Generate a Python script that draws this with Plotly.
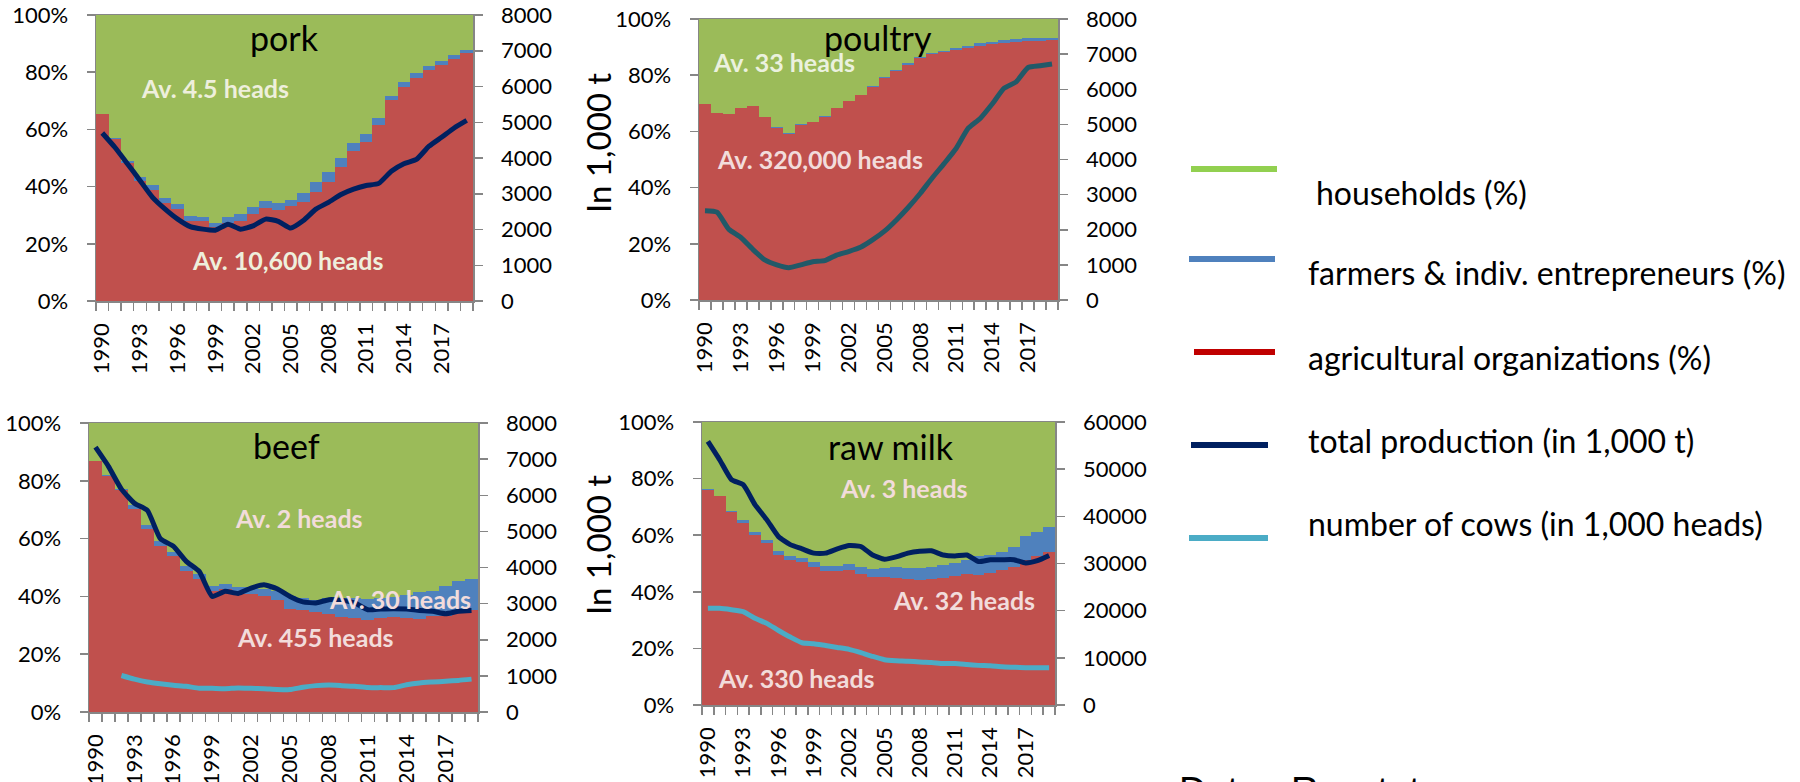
import plotly.graph_objects as go

W, H = 1800, 782

years = list(range(1990, 2020))
year_ticks = [1990, 1993, 1996, 1999, 2002, 2005, 2008, 2011, 2014, 2017]
pct_ticks = [0, 20, 40, 60, 80, 100]
pct_labels = ["0%", "20%", "40%", "60%", "80%", "100%"]

# ---- pork ----
pork_org = [65.3, 56.8, 48.4, 42.1, 38.9, 34.3, 32.0, 28.1, 27.8, 26.0, 27.1, 28.1, 30.4, 32.5, 31.8,
            33.1, 34.7, 38.2, 41.5, 46.8, 52.6, 55.6, 61.4, 70.2, 74.9, 78.1, 80.7, 82.5, 84.6, 86.8]
pork_farm = [0.2, 0.3, 0.5, 1.2, 1.7, 1.6, 1.9, 1.7, 1.7, 1.1, 2.4, 2.3, 2.3, 2.4, 2.4,
             2.3, 3.1, 3.3, 3.5, 3.1, 2.6, 2.9, 2.6, 1.5, 1.7, 1.7, 1.5, 1.4, 1.4, 0.9]
pork_hh = [34.5, 42.9, 51.1, 56.7, 59.4, 64.1, 66.1, 70.2, 70.5, 72.9, 70.5, 69.6, 67.3, 65.1, 65.8,
           64.6, 62.2, 58.5, 55.0, 50.1, 44.8, 41.5, 36.0, 28.3, 23.4, 20.2, 17.8, 16.1, 14.0, 12.3]
pork_prod = [4700, 4300, 3840, 3370, 2900, 2570, 2290, 2080, 2010, 1980, 2150, 2010, 2100, 2290, 2230,
             2040, 2250, 2570, 2760, 2980, 3130, 3230, 3290, 3630, 3840, 3960, 4330, 4580, 4840, 5050]

# ---- poultry ----
poultry_org = [69.6, 66.7, 66.2, 68.4, 68.9, 65.1, 61.3, 59.2, 62.4, 63.3, 65.3, 68.2, 70.7, 72.8, 75.9,
               79.1, 81.5, 83.7, 86.0, 87.4, 88.1, 89.1, 89.8, 90.5, 91.0, 91.5, 91.8, 92.2, 92.3, 92.4]
poultry_farm = [0.0, 0.0, 0.0, 0.0, 0.1, 0.1, 0.1, 0.1, 0.2, 0.2, 0.2, 0.2, 0.2, 0.2, 0.3,
                0.4, 0.4, 0.5, 0.6, 0.6, 0.6, 0.7, 0.7, 0.8, 0.9, 1.0, 1.0, 0.9, 0.9, 1.0]
poultry_hh = [30.4, 33.3, 33.8, 31.6, 31.0, 34.8, 38.6, 40.7, 37.4, 36.5, 34.5, 31.6, 29.1, 27.0, 23.8,
              20.5, 18.1, 15.8, 13.4, 12.0, 11.3, 10.2, 9.5, 8.7, 8.1, 7.5, 7.2, 6.9, 6.8, 6.6]
poultry_prod = [2540, 2500, 2010, 1780, 1440, 1140, 1000, 920, 1000, 1090, 1120, 1280, 1380, 1500, 1710,
                1960, 2280, 2640, 3040, 3480, 3890, 4320, 4890, 5170, 5580, 6030, 6210, 6620, 6670, 6720]

# ---- beef ----
beef_org = [86.7, 81.8, 76.9, 70.4, 63.3, 57.6, 53.9, 48.7, 46.0, 41.8, 42.6, 40.9, 40.9, 40.3, 38.6,
            35.6, 35.2, 34.5, 33.9, 32.8, 32.5, 31.7, 32.5, 32.8, 32.5, 32.2, 33.1, 33.3, 34.5, 35.4]
beef_farm = [0.2, 0.2, 0.4, 1.3, 1.5, 1.5, 1.5, 1.7, 1.9, 1.7, 1.8, 2.4, 2.2, 2.3, 3.2,
             4.4, 4.2, 4.4, 5.5, 6.6, 6.9, 7.4, 6.9, 7.0, 8.1, 9.3, 8.9, 10.2, 10.9, 10.7]
beef_hh = [13.1, 18.0, 22.7, 28.3, 35.2, 40.9, 44.6, 49.6, 52.1, 56.5, 55.6, 56.7, 56.9, 57.4, 58.2,
           60.0, 60.6, 61.1, 60.6, 60.6, 60.6, 60.9, 60.6, 60.2, 59.4, 58.5, 58.0, 56.5, 54.6, 53.9]
beef_prod = [7330, 6800, 6170, 5780, 5580, 4800, 4590, 4170, 3890, 3200, 3340, 3280, 3430, 3520, 3410,
             3200, 3050, 3020, 3110, 3090, 3020, 2830, 2850, 2860, 2850, 2810, 2790, 2720, 2790, 2810]
beef_cows = [None, None, 1010, 910, 830, 780, 740, 710, 660, 655, 645, 665, 655, 645, 625,
             620, 685, 730, 745, 730, 710, 675, 675, 675, 755, 805, 830, 850, 875, 910]

# ---- raw milk ----
milk_org = [76.1, 73.9, 68.2, 64.3, 59.9, 57.2, 53.1, 51.3, 50.4, 48.7, 47.4, 47.4, 47.8, 46.3, 45.2,
            45.2, 45.0, 44.5, 44.2, 44.5, 45.0, 45.6, 46.2, 46.0, 46.8, 47.8, 48.9, 51.1, 52.8, 54.0]
milk_farm = [0.1, 0.1, 0.4, 0.9, 1.2, 1.2, 1.4, 1.5, 1.5, 1.7, 1.8, 1.8, 2.1, 2.4, 2.8,
             3.1, 3.7, 3.8, 4.1, 4.4, 4.5, 4.5, 5.1, 6.5, 6.3, 6.4, 7.1, 8.7, 8.5, 8.9]
milk_hh = [23.8, 26.0, 31.4, 34.8, 38.9, 41.6, 45.5, 47.2, 48.1, 49.6, 50.8, 50.8, 50.1, 51.3, 52.0,
           51.7, 51.3, 51.7, 51.7, 51.1, 50.5, 49.9, 48.7, 47.5, 46.9, 45.8, 44.0, 40.2, 38.7, 37.1]
milk_prod = [55900, 52000, 47800, 46700, 42500, 39300, 35700, 34000, 33100, 32200, 32200, 33100, 33800, 33600, 31800,
             30900, 31400, 32200, 32600, 32700, 31800, 31600, 31800, 30400, 30800, 30800, 30800, 30100, 30600, 31700]
milk_cows = [20500, 20500, 20200, 19800, 18400, 17300, 15800, 14400, 13200, 13000, 12600, 12200, 11800, 11100, 10300,
             9600, 9400, 9300, 9100, 9000, 8800, 8800, 8600, 8400, 8300, 8100, 8000, 7900, 7900, 7900]

legend_labels = ["households (%)", "farmers & indiv. entrepreneurs (%)", "agricultural organizations (%)",
                 "total production (in 1,000 t)", "number of cows (in 1,000 heads)"]

# ---- styles ----
RED, BLUE, GREEN = "#C0504D", "#4F81BD", "#9BBB59"
NAVY, TEAL, CYAN = "#002060", "#215968", "#4BACC6"
AXIS = "#868686"
FONT = "Lato"
TICKFONT = dict(family=FONT, size=22, color="#000000")


def px_x(p):
    return p / W


def px_y(p):
    return 1 - p / H


panels = [
    dict(name="pork", org=pork_org, farm=pork_farm, hh=pork_hh, prod=pork_prod, cows=None,
         prod_color=NAVY, rmax=8000, rdtick=1000, x=(96, 473), y=(15, 301)),
    dict(name="poultry", org=poultry_org, farm=poultry_farm, hh=poultry_hh, prod=poultry_prod, cows=None,
         prod_color=TEAL, rmax=8000, rdtick=1000, x=(699, 1058), y=(19, 300)),
    dict(name="beef", org=beef_org, farm=beef_farm, hh=beef_hh, prod=beef_prod, cows=beef_cows,
         prod_color=NAVY, rmax=8000, rdtick=1000, x=(89, 478), y=(423, 712)),
    dict(name="raw milk", org=milk_org, farm=milk_farm, hh=milk_hh, prod=milk_prod, cows=milk_cows,
         prod_color=NAVY, rmax=60000, rdtick=10000, x=(702, 1055), y=(422, 705)),
]

fig = go.Figure()
layout = dict()

for i, p in enumerate(panels):
    n = i + 1
    xa = "x" if n == 1 else f"x{n}"
    yl = "y" if n == 1 else f"y{2 * n - 1}"
    yr = f"y{2 * n}"
    xkey = "xaxis" if n == 1 else f"xaxis{n}"
    ylkey = "yaxis" if n == 1 else f"yaxis{2 * n - 1}"
    yrkey = f"yaxis{2 * n}"

    for vals, col, nm in [(p["org"], RED, legend_labels[2]), (p["farm"], BLUE, legend_labels[1]),
                          (p["hh"], GREEN, legend_labels[0])]:
        fig.add_trace(go.Bar(x=years, y=vals, marker=dict(color=col, line=dict(width=0)),
                             name=nm, showlegend=False, xaxis=xa, yaxis=yl))
    fig.add_trace(go.Scatter(x=years, y=p["prod"], mode="lines", name=legend_labels[3],
                             line=dict(color=p["prod_color"], width=5, shape="spline", smoothing=0.5),
                             showlegend=False, xaxis=xa, yaxis=yr))
    if p["cows"] is not None:
        fig.add_trace(go.Scatter(x=years, y=p["cows"], mode="lines", name=legend_labels[4],
                                 line=dict(color=CYAN, width=5, shape="spline", smoothing=0.5),
                                 showlegend=False, xaxis=xa, yaxis=yr, connectgaps=False))

    dom_x = [px_x(p["x"][0]), px_x(p["x"][1])]
    dom_y = [px_y(p["y"][1]), px_y(p["y"][0])]
    rt = list(range(0, p["rmax"] + 1, p["rdtick"]))
    layout[xkey] = dict(domain=dom_x, anchor=yl, range=[1989.5, 2019.5], tickvals=year_ticks,
                        ticktext=[str(v) for v in year_ticks], tickangle=-90, ticks="outside", ticklen=0,
                        tickfont=TICKFONT, showline=True, linecolor=AXIS, linewidth=1.5, mirror=True,
                        showgrid=False, zeroline=False, ticklabelstandoff=12, automargin=False,
                        ticklabeloverflow="allow",
                        minor=dict(tickvals=[y - 0.5 for y in years] + [2019.5], ticks="outside",
                                   ticklen=8, tickcolor=AXIS, tickwidth=1.5, showgrid=False))
    layout[ylkey] = dict(domain=dom_y, anchor=xa, range=[0, 100], tickvals=pct_ticks, ticktext=pct_labels,
                         ticks="outside", ticklen=8, tickcolor=AXIS, tickwidth=1.5,
                         tickfont=TICKFONT, showline=True, linecolor=AXIS, linewidth=1.5,
                         showgrid=False, zeroline=False, ticklabelstandoff=14, automargin=False,
                         ticklabeloverflow="allow")
    layout[yrkey] = dict(overlaying=yl, side="right", anchor=xa, range=[0, p["rmax"]],
                         tickvals=rt, ticktext=[str(v) for v in rt],
                         ticks="outside", ticklen=8, tickcolor=AXIS, tickwidth=1.5, tickfont=TICKFONT,
                         showline=True, linecolor=AXIS, linewidth=1.5, showgrid=False, zeroline=False,
                         ticklabelstandoff=14, automargin=False, ticklabeloverflow="allow")

annotations = []


def ann(text, x, y, size, color, bold=False, family=FONT, xanchor="center", yanchor="middle", **kw):
    d = dict(text=f"<b>{text}</b>" if bold else text, x=px_x(x), y=px_y(y), xref="paper", yref="paper",
             showarrow=False, xanchor=xanchor, yanchor=yanchor,
             font=dict(family=family, size=size, color=color))
    d.update(kw)
    annotations.append(d)


# panel titles
ann("pork", 284, 38, 34, "#000000")
ann("poultry", 878, 38, 34, "#000000")
ann("beef", 286, 445, 34, "#000000")
ann("raw milk", 891, 446, 34, "#000000")

CREAM, PINK, PALE = "#EEEFDC", "#F2DCDB", "#EBF1DE"
AV = 25
ann("Av. 4.5 heads", 215, 88, AV, CREAM, bold=True)
ann("Av. 10,600 heads", 287, 260, AV, CREAM, bold=True)
ann("Av. 33 heads", 784, 62, AV, PALE, bold=True)
ann("Av. 320,000 heads", 820, 159, AV, PINK, bold=True)
ann("Av. 2 heads", 299, 518, AV, PINK, bold=True)
ann("Av. 30 heads", 400, 599, AV, PINK, bold=True)
ann("Av. 455 heads", 315, 637, AV, PINK, bold=True)
ann("Av. 3 heads", 904, 488, AV, PINK, bold=True)
ann("Av. 32 heads", 964, 600, AV, PINK, bold=True)
ann("Av. 330 heads", 796, 678, AV, PINK, bold=True)

# y titles
ann("In 1,000 t", 598, 143, 33, "#000000", textangle=-90)
ann("In 1,000 t", 598, 545, 33, "#000000", textangle=-90)

# legend
leg_lines = [(1191, 1277, 169, "#92D050"), (1189, 1275, 259, BLUE), (1194, 1275, 352, "#C00000"),
             (1191, 1268, 445, NAVY), (1189, 1268, 538, CYAN)]
leg_text = [(1314, 192), (1306, 273), (1306, 357), (1306, 440), (1306, 523)]
shapes = []
for (x0, x1, yy, col) in leg_lines:
    shapes.append(dict(type="line", xref="paper", yref="paper", x0=px_x(x0), x1=px_x(x1),
                       y0=px_y(yy), y1=px_y(yy), line=dict(color=col, width=6)))
for lab, (tx, ty) in zip(legend_labels, leg_text):
    ann(lab, tx, ty, 32, "#000000", xanchor="left")

ann("Data:  Rosstat", 1177, 768, 38, "#000000", family="Liberation Sans", xanchor="left", yanchor="top")

fig.update_layout(**layout)
fig.update_layout(width=W, height=H, margin=dict(l=0, r=0, t=0, b=0, autoexpand=False),
                  paper_bgcolor="white", plot_bgcolor="white", barmode="stack", bargap=0, showlegend=False,
                  annotations=annotations, shapes=shapes, font=dict(family=FONT), hovermode=False)

fig.write_html("out.html", config={"displayModeBar": False, "staticPlot": True},
               post_script="document.body.style.margin='0';document.body.style.overflow='hidden';")
